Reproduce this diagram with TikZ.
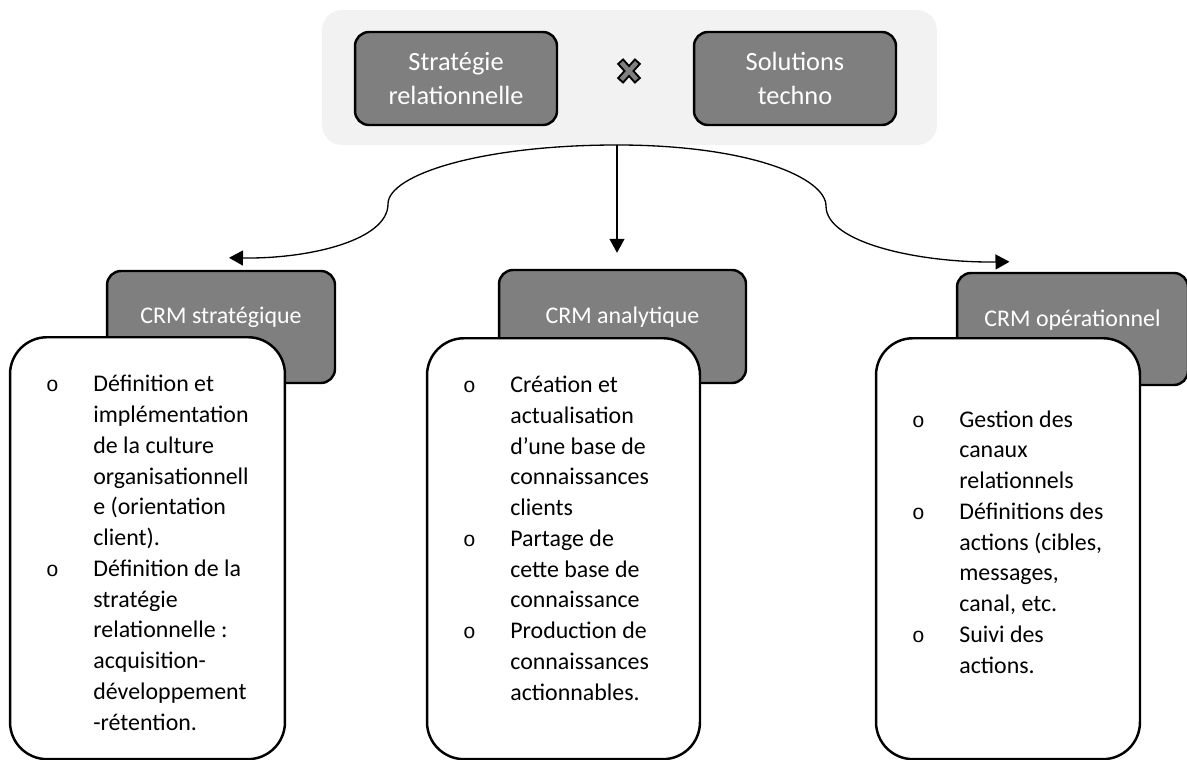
\documentclass[tikz,border=0pt]{standalone}
\usepackage{fontspec}
\setmainfont{Carlito}
\newfontfamily\pucefont{Liberation Mono}
\usetikzlibrary{arrows.meta}
\definecolor{fond}{HTML}{F2F2F2}
\definecolor{gris}{HTML}{7F7F7F}
\newcommand{\puce}{\llap{\makebox[1.64cm]{\pucefont\fontsize{12}{12}\selectfont o}}}

\tikzset{
  bloc/.style={draw, line width=1.4pt, fill=gris, rounded corners=0.28cm, text=white, inner sep=0pt},
  corps/.style={draw, line width=1.4pt, fill=white, rounded corners=0.74cm, anchor=north},
  liste/.style={align=left, anchor=base west, inner sep=0pt, font=\fontsize{13.6}{17.5}\selectfont},
  fleche/.style={-{Triangle[length=0.28cm,width=0.3cm]}, line width=0.75pt}
}

\begin{document}
\begin{tikzpicture}[x=0.02cm, y=-0.02cm]
\useasboundingbox (0,0) rectangle (1187,760);

\node[fill=fond, rounded corners=0.4cm, minimum width=12.3cm, minimum height=2.7cm] (fond) at (629.5,77.5) {};%fond gris
\node[bloc, minimum width=4.04cm, minimum height=1.86cm, align=center, font=\fontsize{15}{19.3}\selectfont] (strategie) at (456,78.5) {Stratégie\\relationnelle};
\node[bloc, minimum width=4.04cm, minimum height=1.86cm, align=center, font=\fontsize{15}{19.3}\selectfont] (solutions) at (795,78.5) {Solutions\\techno};

\coordinate (fois) at (629,71);
\draw[line width=0.17cm] ([shift={(-9,-10)}]fois) -- ([shift={(9,10)}]fois) ([shift={(9,-10)}]fois) -- ([shift={(-9,10)}]fois);
\draw[gris, line width=0.09cm, shorten <=0.04cm, shorten >=0.04cm] ([shift={(-9,-10)}]fois) -- ([shift={(9,10)}]fois);
\draw[gris, line width=0.09cm, shorten <=0.04cm, shorten >=0.04cm] ([shift={(9,-10)}]fois) -- ([shift={(-9,10)}]fois);

%les trois CRM
\node[bloc, minimum width=4.56cm, text height=1.04cm, text depth=1.2cm, anchor=base, font=\fontsize{13.6}{16}\selectfont] (crmstrat) at (221,323) {CRM stratégique};
\node[bloc, minimum width=4.94cm, text height=1.06cm, text depth=1.2cm, anchor=base, font=\fontsize{13.6}{16}\selectfont] (crmanalyt) at (622.5,323) {CRM analytique};
\node[bloc, minimum width=4.62cm, text height=1.08cm, text depth=1.16cm, anchor=base, font=\fontsize{13.6}{16}\selectfont] (crmoper) at (1072.5,327) {CRM opérationnel};

\node[corps, minimum width=5.5cm, minimum height=8.44cm] (corpsstrat) at (147.5,336) {};
\node[corps, minimum width=5.46cm, minimum height=8.42cm] (corpsanalyt) at (563.5,337) {};
\node[corps, minimum width=5.28cm, minimum height=8.42cm] (corpsoper) at (1008,337) {};

%base = derniere ligne
\node[liste] (listestrat) at (93,730) {\puce Définition et\\implémentation\\de la culture\\organisationnell\\e (orientation\\client).\\\puce Définition de la\\stratégie\\relationnelle :\\acquisition-\\développement\\-rétention.};
\node[liste] (listeanalyt) at (510,700) {\puce Création et\\actualisation\\d’une base de\\connaissances\\clients\\\puce Partage de\\cette base de\\connaissance\\\puce Production de\\connaissances\\actionnables.};
\node[liste] (listeoper) at (959,673) {\puce Gestion des\\canaux\\relationnels\\\puce Définitions des\\actions (cibles,\\messages,\\canal, etc.\\\puce Suivi des\\actions.};

%fleches
\coordinate (depart) at (617,145);
\draw[fleche] (depart) .. controls (480,145) and (388,175) .. (388,204) .. controls (388,240) and (310,259) .. ([shift={(8,-12)}]crmstrat.north);
\draw[fleche, shorten >=0.32cm] (depart) -- (depart |- crmanalyt.north);
\draw[fleche] (depart) .. controls (750,145) and (826,178) .. (826,206) .. controls (826,243) and (920,263) .. ([shift={(-63,-10)}]crmoper.north);

\end{tikzpicture}
\end{document}
